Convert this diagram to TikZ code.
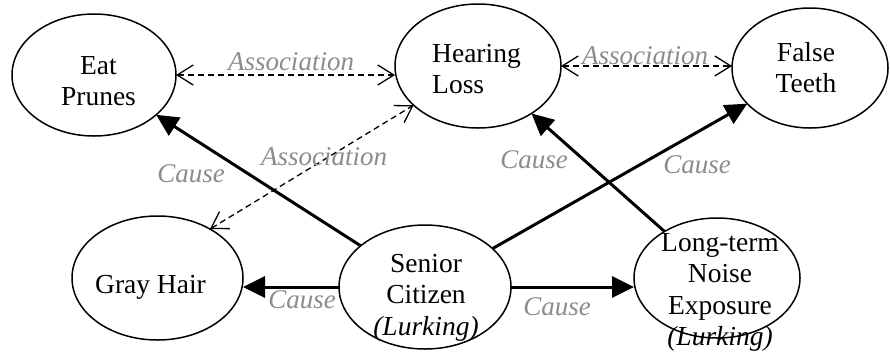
\documentclass[tikz,border=0pt]{standalone}
\usepackage{fontspec}
\setmainfont{Liberation Serif}
\usetikzlibrary{shapes.geometric,arrows.meta}
\definecolor{lblgray}{RGB}{140,140,140}
\begin{document}
\begin{tikzpicture}[x=1pt,y=-1pt,
  oval/.style={draw,ellipse,line width=1.5pt,inner sep=0pt,outer sep=0pt},
  txt/.style={anchor=base,inner sep=0pt,font=\fontsize{27.5}{31.5}\selectfont},
  lbl/.style={anchor=base,inner sep=0pt,text=lblgray,font=\fontsize{27}{31.5}\selectfont\itshape},
  cause/.style={line width=3pt,-{Triangle[length=22pt,width=21pt]}},
  assoc/.style={line width=1.3pt,dash pattern=on 6pt off 4pt,
    {Straight Barb[length=16pt,width=20pt]}-{Straight Barb[length=16pt,width=20pt]}},
]
\useasboundingbox (0,0) rectangle (890,354);

% ellipses
\node[oval,minimum width=164pt,minimum height=122pt] (ep) at (94,75) {};
\node[oval,minimum width=166pt,minimum height=124pt] (hl) at (478,66) {};
\node[oval,minimum width=156pt,minimum height=120pt] (ft) at (810,68) {};
\node[oval,minimum width=171pt,minimum height=124pt] (gh) at (157.5,278) {};
\node[oval,minimum width=172pt,minimum height=124pt] (sc) at (425,287) {};
\node[oval,minimum width=166pt,minimum height=120pt] (ln) at (717,278) {};

% texts
\node[txt] (ept) at (98.5,74) {\begin{tabular}[t]{@{}c@{}}Eat\\Prunes\end{tabular}};
\node[txt,anchor=base west] (hlt) at (432,62) {\begin{tabular}[t]{@{}l@{}}Hearing\\Loss\end{tabular}};
\node[txt] (ftt) at (806,61) {\begin{tabular}[t]{@{}c@{}}False\\Teeth\end{tabular}};
\node[txt] (ght) at (150.5,293) {Gray Hair};
\node[txt] (sct) at (426,272) {\begin{tabular}[t]{@{}c@{}}Senior\\Citizen\\\textit{(Lurking)}\end{tabular}};
\node[txt] (lnt) at (720,251) {\begin{tabular}[t]{@{}c@{}}Long-term\\Noise\\Exposure\\\textit{(Lurking)}\end{tabular}};

% association connectors
\draw[assoc] (ep.east) -- (ep.east -| hl.west);
\draw[assoc] (hl.east) -- (hl.east -| ft.west);
\draw[assoc] (gh.43) -- (hl);

% cause connectors
\draw[cause] (sc) -- (ep);
\draw[cause] (sc) -- (ft);
\draw[cause] (ln) -- (hl);
\draw[cause] (sc.west) -- (sc.west -| gh.east);
\draw[cause] (sc.east) -- (sc.east -| ln.west);

% labels
\node[lbl] (a1) at (291,70) {Association};
\node[lbl] (a2) at (645,64) {Association};
\node[lbl] (a3) at (324,165) {Association};
\node[lbl] (c1) at (191,182) {Cause};
\node[lbl] (c2) at (534,168) {Cause};
\node[lbl] (c3) at (697,173) {Cause};
\node[lbl] (c4) at (302,308) {Cause};
\node[lbl] (c5) at (557,315) {Cause};
\end{tikzpicture}
\end{document}
